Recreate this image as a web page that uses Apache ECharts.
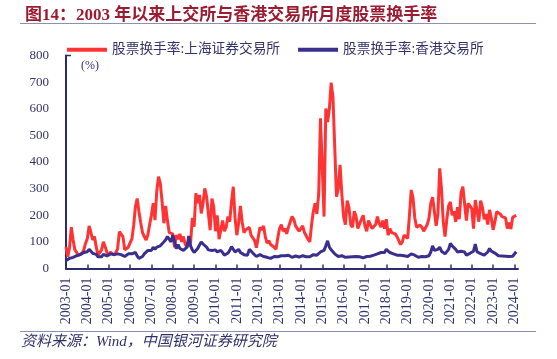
<!DOCTYPE html>
<html>
<head>
<meta charset="utf-8">
<script src="https://cdn.jsdelivr.net/npm/echarts@6/dist/echarts.min.js"></script>
<style>
html,body{margin:0;padding:0;background:#fff;}
#c{width:557px;height:359px;}
</style>
</head>
<body>
<div id="c"></div>
<script>
// Monthly categories 2003-01 .. 2024-03
var startYear = 2003, endYear = 2024, endMonth = 3;
var categories = [];
for (var y = startYear; y <= endYear; y++) {
  for (var m = 1; m <= 12; m++) {
    if (y === endYear && m > endMonth) break;
    categories.push(y + '-' + (m < 10 ? '0' + m : m));
  }
}

// 股票换手率:上海证券交易所 (%)
var shanghai = [
  82, 44, 80, 155, 107, 70, 63, 50, 44, 57, 70, 95,          // 2003
  113, 160, 135, 107, 120, 80, 50, 44, 70, 100, 82, 60,      // 2004
  50, 62, 55, 50, 60, 75, 138, 144, 120, 70, 65, 80,         // 2005
  96, 110, 160, 232, 263, 213, 171, 135, 120, 107, 126, 165, // 2006
  200, 245, 182, 290, 345, 320, 250, 170, 235, 180, 135, 140,// 2007
  130, 80, 125, 110, 130, 100, 120, 90, 80, 105, 95, 190,    // 2008
  157, 283, 245, 276, 207, 245, 301, 270, 207, 144, 263, 232,// 2009
  140, 200, 110, 145, 180, 140, 155, 195, 176, 250, 307, 190,// 2010
  125, 170, 235, 175, 135, 145, 140, 155, 125, 120, 105, 78, // 2011
  80, 155, 145, 160, 120, 95, 105, 90, 85, 80, 72, 115,      // 2012
  150, 165, 140, 150, 130, 155, 150, 195, 185, 160, 150, 140,// 2013
  140, 160, 135, 130, 110, 100, 165, 215, 245, 205, 280, 564,// 2014
  380, 195, 601, 550, 600, 698, 645, 458, 270, 300, 389, 280,// 2015
  195, 165, 255, 230, 165, 155, 215, 195, 150, 145, 185, 200,// 2016
  160, 140, 180, 175, 150, 145, 165, 195, 170, 155, 180, 150,// 2017
  185, 125, 150, 135, 130, 130, 120, 105, 90, 100, 125, 120, // 2018
  113, 200, 295, 265, 190, 155, 155, 163, 155, 140, 135, 165,// 2019
  190, 245, 268, 215, 160, 205, 376, 300, 175, 120, 185, 235,// 2020
  250, 200, 215, 175, 230, 185, 285, 307, 305, 180, 245, 235,// 2021
  225, 150, 257, 215, 176, 255, 230, 185, 205, 165, 220, 190,// 2022
  145, 175, 213, 220, 205, 195, 200, 190, 150, 172, 148, 192,// 2023
  188, 200                                                   // 2024
];

// 股票换手率:香港交易所 (%)
var hongkong = [
  30, 35, 38, 40, 42, 45, 48, 50, 52, 55, 60, 62,   // 2003
  63, 72, 67, 57, 62, 53, 44, 38, 44, 53, 50, 47,   // 2004
  50, 55, 58, 52, 47, 55, 60, 52, 58, 45, 50, 55,   // 2005
  50, 55, 52, 60, 47, 38, 40, 45, 55, 62, 68, 65,   // 2006
  68, 80, 72, 80, 75, 85, 88, 100, 108, 120, 110, 100, // 2007
  125, 100, 75, 90, 75, 72, 68, 65, 80, 122, 85, 70, // 2008
  60, 65, 75, 88, 100, 92, 85, 80, 70, 72, 68, 63,  // 2009
  70, 62, 55, 68, 60, 50, 52, 58, 68, 82, 75, 62,   // 2010
  65, 72, 60, 55, 52, 48, 50, 72, 68, 58, 52, 45,   // 2011
  48, 52, 50, 45, 48, 42, 40, 38, 42, 45, 46, 44,   // 2012
  50, 48, 46, 48, 47, 50, 44, 42, 45, 47, 44, 43,   // 2013
  47, 48, 45, 44, 42, 44, 50, 52, 55, 50, 55, 62,   // 2014
  60, 68, 85, 104, 80, 70, 65, 55, 50, 45, 45, 48,  // 2015
  48, 42, 44, 43, 40, 44, 42, 45, 46, 44, 42, 40,   // 2016
  44, 45, 48, 46, 48, 50, 52, 55, 55, 60, 65, 60,   // 2017
  72, 65, 60, 58, 55, 52, 50, 48, 50, 52, 48, 45,   // 2018
  45, 48, 55, 52, 50, 45, 42, 48, 45, 42, 44, 40,   // 2019
  48, 62, 85, 68, 62, 72, 80, 65, 60, 55, 62, 72,   // 2020
  94, 85, 80, 72, 62, 58, 65, 72, 62, 50, 55, 57,   // 2021
  62, 65, 92, 62, 58, 56, 52, 50, 52, 62, 75, 65,   // 2022
  70, 58, 52, 48, 44, 47, 48, 46, 42, 45, 50, 46,   // 2023
  52, 63                                            // 2024
];

var yTicks = [0, 100, 200, 300, 400, 500, 600, 700, 800];

var seriesNames = ['股票换手率:上海证券交易所', '股票换手率:香港交易所'];
var titleText = '图14：2003 年以来上交所与香港交易所月度股票换手率';
var sourceText = '资料来源：Wind，中国银河证券研究院';

var navy = '#2E2C70';
var textColor = '#33336B';
var serif = '"Liberation Serif", "Times New Roman", "Noto Sans CJK SC", serif';

var chart = echarts.init(document.getElementById('c'), null, {renderer: 'canvas'});
chart.setOption({
  animation: false,
  backgroundColor: '#fff',
  title: {
    text: titleText,
    left: 20, top: 2,
    textStyle: {fontSize: 17, fontWeight: 'bold', color: '#9B1B30', fontFamily: serif}
  },
  graphic: [
    {type: 'line', shape: {x1: 20, y1: 23.5, x2: 536, y2: 23.5}, style: {stroke: '#8C90B4', lineWidth: 1}},
    {type: 'line', shape: {x1: 20, y1: 331.5, x2: 536, y2: 331.5}, style: {stroke: '#8C90B4', lineWidth: 1}},
    {type: 'text', left: 21, top: 335, style: {text: sourceText, fill: textColor, font: 'italic 15px ' + serif}},
    {type: 'text', left: 81, top: 60, style: {text: '(%)', fill: textColor, font: '12px ' + serif}},
    {type: 'line', shape: {x1: 66, y1: 55.5, x2: 71, y2: 55.5}, style: {stroke: navy, lineWidth: 1.5}}
  ],
  legend: {
    left: 62, top: 38,
    itemWidth: 40, itemHeight: 4, itemGap: 18,
    icon: 'rect',
    textStyle: {fontSize: 13.7, color: textColor, fontFamily: serif},
    data: seriesNames
  },
  grid: {left: 66, right: 39, top: 55.5, bottom: 90.5, containLabel: false},
  xAxis: {
    type: 'category',
    data: categories,
    boundaryGap: false,
    axisLine: {lineStyle: {color: navy, width: 2}},
    axisTick: {inside: true, length: 4, interval: 11, lineStyle: {color: navy, width: 1.5}},
    axisLabel: {interval: 11, rotate: 90, margin: 9, fontSize: 14, color: textColor, fontFamily: serif},
    splitLine: {show: false}
  },
  yAxis: {
    type: 'value',
    min: yTicks[0], max: yTicks[yTicks.length - 1], interval: 100,
    axisLine: {show: true, lineStyle: {color: navy, width: 2}},
    axisTick: {show: false},
    axisLabel: {margin: 17, fontSize: 13, color: textColor, fontFamily: serif},
    splitLine: {show: false}
  },
  series: [
    {name: seriesNames[0], type: 'line', data: shanghai, symbol: 'none',
     lineStyle: {color: '#FF3333', width: 3}, itemStyle: {color: '#FF3333'}},
    {name: seriesNames[1], type: 'line', data: hongkong, symbol: 'none',
     lineStyle: {color: '#3A2F8E', width: 3}, itemStyle: {color: '#3A2F8E'}}
  ]
});
</script>
</body>
</html>
